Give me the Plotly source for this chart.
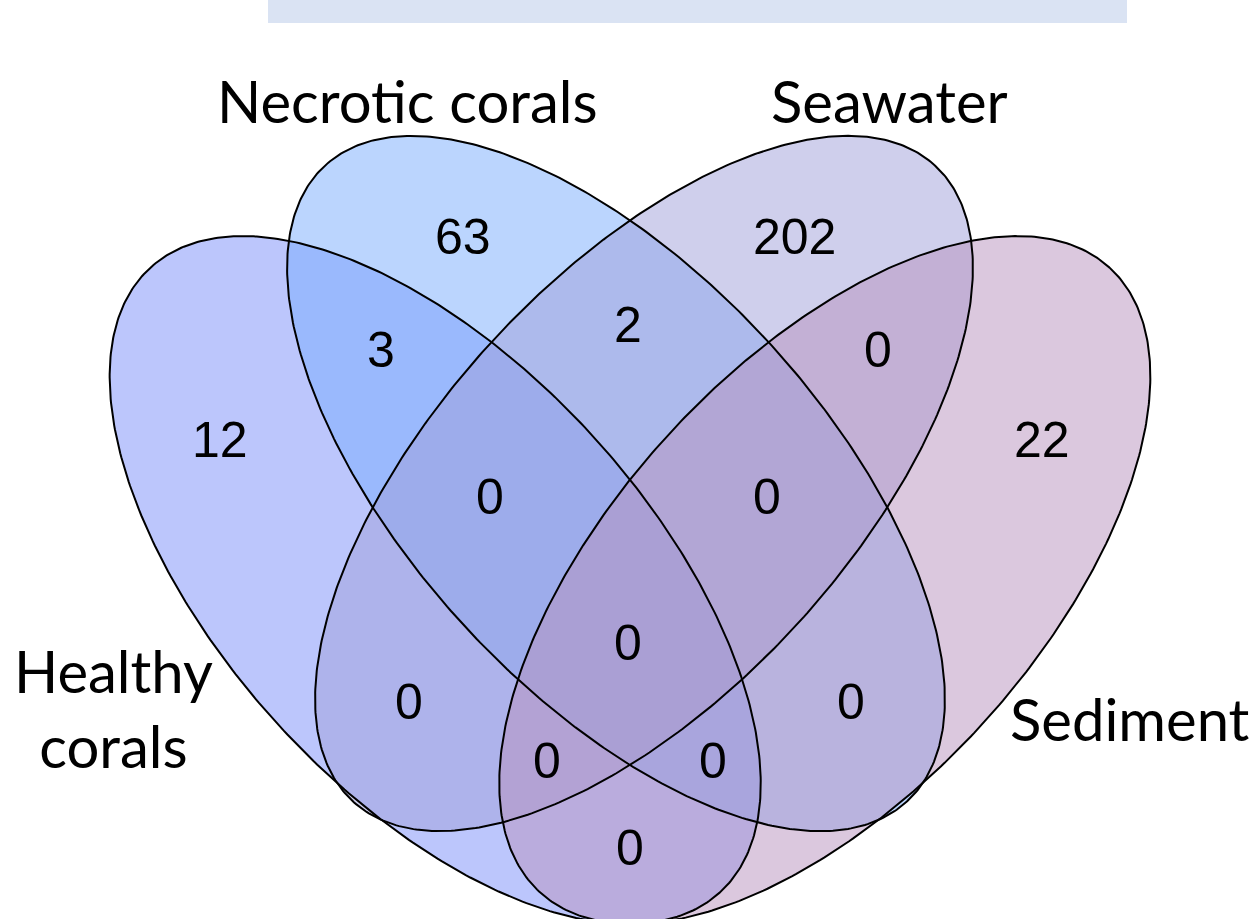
import numpy as np
import plotly.graph_objects as go

# ---- data ----
set_names = ["Healthy corals", "Necrotic corals", "Seawater", "Sediment"]
set_label_text = ["Healthy<br>corals", "Necrotic corals", "Seawater", "Sediment"]
set_colors = ["rgb(121,141,249)", "rgb(119,171,253)", "rgb(159,159,217)", "rgb(183,145,189)"]

region_names = ["H", "N", "S", "D", "H&N", "N&S", "S&D", "H&N&S", "N&S&D",
                "H&N&S&D", "H&S", "N&D", "H&S&D", "H&N&D", "H&D"]
region_counts = [12, 63, 202, 22, 3, 2, 0, 0, 0, 0, 0, 0, 0, 0, 0]

# ---- geometry (layout only) ----
# ellipse: cx, cy, semi-major, semi-minor, angle (deg, screen coords)
ellipses = [
    (435.2, 580.0, 422.7, 213.5, 47.65),
    (616.0, 483.5, 431.0, 208.0, 47.55),
    (644.0, 483.5, 431.0, 208.0, -47.55),
    (824.8, 580.0, 422.7, 213.5, -47.65),
]
region_pos = [(220, 440), (463, 237), (794, 237), (1042, 440), (381, 350), (628, 325),
              (878, 350), (490, 497), (767, 497), (628, 643), (409, 702), (851, 702),
              (547, 761), (713, 761), (630, 848)]
label_pos = [(113, 708), (407, 100), (889, 100), (1130, 718)]

W, H = 1260, 919
fig = go.Figure()

t = np.linspace(0, 2 * np.pi, 500)
outlines = []
for (cx, cy, a, b, ang), col in zip(ellipses, set_colors):
    th = np.deg2rad(ang)
    x = cx + a * np.cos(t) * np.cos(th) - b * np.sin(t) * np.sin(th)
    y = cy + a * np.cos(t) * np.sin(th) + b * np.sin(t) * np.cos(th)
    outlines.append((x, y))
    fig.add_trace(go.Scatter(x=x, y=y, mode="lines", fill="toself",
                             fillcolor=col.replace("rgb", "rgba").replace(")", ",0.5)"),
                             line=dict(width=0), hoverinfo="skip", showlegend=False))
for name, (x, y) in zip(set_names, outlines):
    fig.add_trace(go.Scatter(x=x, y=y, mode="lines", name=name,
                             line=dict(color="black", width=2), hoverinfo="skip",
                             showlegend=False))

for cnt, (px, py) in zip(region_counts, region_pos):
    fig.add_annotation(x=px, y=py, text=str(cnt), showarrow=False,
                       font=dict(family="Liberation Sans, Arial", size=50, color="black"),
                       xanchor="center", yanchor="middle")

for txt, (px, py) in zip(set_label_text, label_pos):
    fig.add_annotation(x=px, y=py, text=txt, showarrow=False,
                       font=dict(family="Lato", size=58, color="black"),
                       xanchor="center", yanchor="middle")

fig.add_shape(type="rect", x0=268, x1=1127, y0=0, y1=23, xref="x", yref="y",
              fillcolor="#DAE3F3", line=dict(width=0), layer="below")

fig.update_layout(width=W, height=H, margin=dict(l=0, r=0, t=0, b=0),
                  paper_bgcolor="white", plot_bgcolor="white",
                  xaxis=dict(range=[0, W], visible=False, fixedrange=True),
                  yaxis=dict(range=[H, 0], visible=False, fixedrange=True))
fig.write_html("out.html", config={"displayModeBar": False},
               post_script="document.body.style.margin='0';document.body.style.overflow='hidden';")
